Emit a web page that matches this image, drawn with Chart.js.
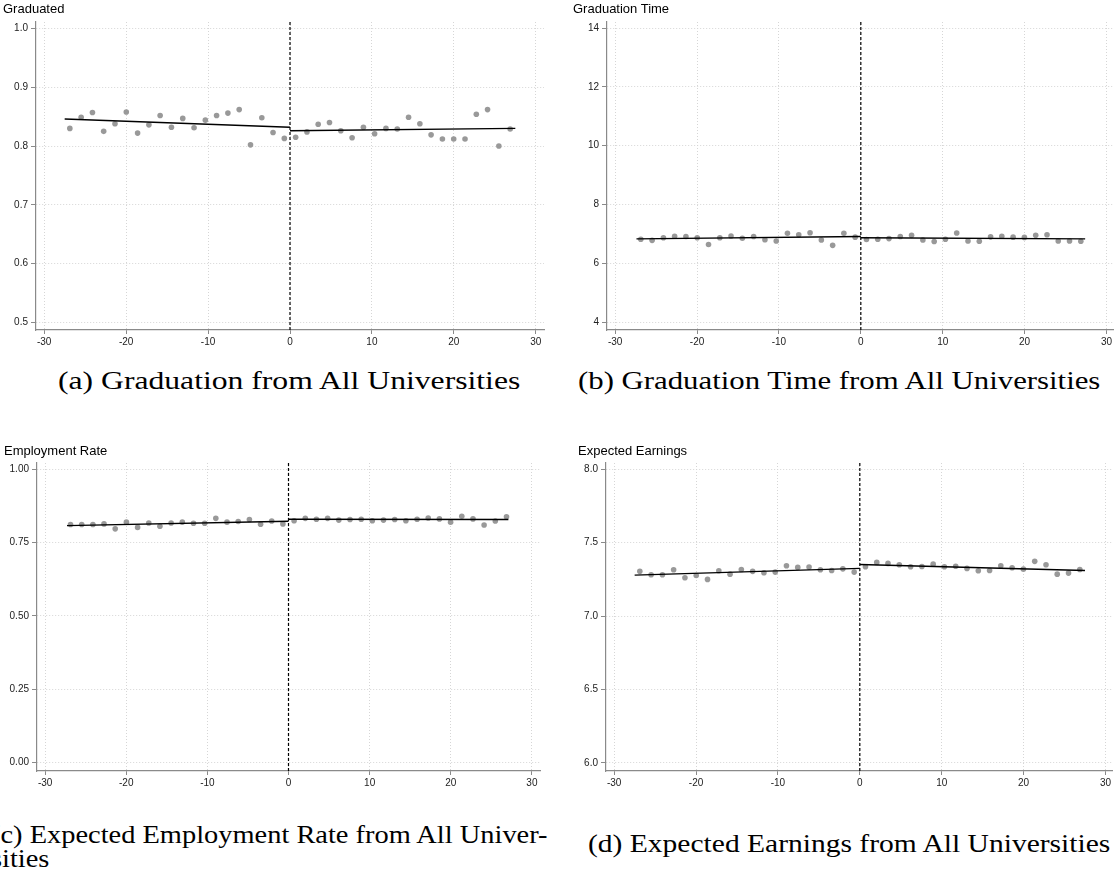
<!DOCTYPE html>
<html><head><meta charset="utf-8">
<script src="https://cdn.jsdelivr.net/npm/chart.js@4.4.1/dist/chart.umd.min.js"></script>
<style>
body{margin:0;width:1117px;height:869px;position:relative;overflow:hidden;background:#fff;}
.box{position:absolute;}
.ttl{position:absolute;font-family:'Liberation Sans',Arial,sans-serif;font-size:13px;line-height:13px;color:#000;white-space:nowrap;z-index:3;}
.cap{position:absolute;font-family:'Liberation Serif','Times New Roman',serif;font-size:25px;line-height:27px;white-space:nowrap;color:#000;transform-origin:0 0;z-index:3;}
</style></head><body>

<div class="box" id="boxA" style="left:0;top:0;width:558px;height:358px;"><canvas id="cA"></canvas></div>
<div class="box" id="boxB" style="left:560px;top:0;width:557px;height:358px;"><canvas id="cB"></canvas></div>
<div class="box" id="boxC" style="left:0;top:440px;width:558px;height:360px;"><canvas id="cC"></canvas></div>
<div class="box" id="boxD" style="left:560px;top:440px;width:557px;height:360px;"><canvas id="cD"></canvas></div>

<div class="ttl" style="left:3px;top:2px;">Graduated</div>
<div class="ttl" style="left:573px;top:2px;">Graduation Time</div>
<div class="ttl" style="left:4px;top:444px;">Employment Rate</div>
<div class="ttl" style="left:578px;top:444px;">Expected Earnings</div>

<div class="cap" id="capA" style="left:58px;top:367px;">(a) Graduation from All Universities</div>
<div class="cap" id="capB" style="left:578px;top:367px;">(b) Graduation Time from All Universities</div>
<div class="cap" id="capC" style="left:-9px;top:823px;line-height:24px;"><span id="capC1">(c) Expected Employment Rate from All Univer-</span><br>sities</div>
<div class="cap" id="capD" style="left:588px;top:830px;">(d) Expected Earnings from All Universities</div>

<script>
// ---- data ----
const xBins = [-26.87,-25.49,-24.11,-22.74,-21.36,-19.98,-18.60,-17.22,-15.85,-14.47,-13.09,-11.71,-10.33,-8.96,-7.58,-6.20,-4.82,-3.44,-2.07,-0.69,
               0.69,2.07,3.44,4.82,6.20,7.58,8.96,10.33,11.71,13.09,14.47,15.85,17.22,18.60,19.98,21.36,22.74,24.11,25.49,26.87];
const xTicks = [-30,-20,-10,0,10,20,30];
const xTickLabels = ['-30','-20','-10','0','10','20','30'];

const graduated = [0.830,0.849,0.857,0.825,0.838,0.858,0.822,0.836,0.852,0.832,0.847,0.831,0.844,0.852,0.856,0.862,0.802,0.848,0.823,0.813,
                   0.815,0.824,0.837,0.840,0.826,0.814,0.832,0.821,0.830,0.829,0.849,0.838,0.819,0.812,0.812,0.812,0.854,0.862,0.800,0.829];
const gradFitLeft  = [[-27.5,0.846],[0,0.832]];
const gradFitRight = [[0,0.826],[27.5,0.830]];
const gradYTicks = [0.5,0.6,0.7,0.8,0.9,1.0];
const gradYLabels = ['0.5','0.6','0.7','0.8','0.9','1.0'];

const gradTime = [6.82,6.78,6.87,6.92,6.91,6.87,6.64,6.87,6.93,6.85,6.91,6.80,6.76,7.02,6.97,7.04,6.79,6.61,7.02,6.89,
                  6.81,6.82,6.84,6.91,6.95,6.79,6.74,6.82,7.03,6.76,6.75,6.90,6.92,6.89,6.88,6.95,6.97,6.76,6.76,6.75];
const timeFitLeft  = [[-27.4,6.83],[0,6.91]];
const timeFitRight = [[0,6.87],[27.4,6.83]];
const timeYTicks = [4,6,8,10,12,14];
const timeYLabels = ['4','6','8','10','12','14'];

const employment = [0.812,0.812,0.812,0.814,0.797,0.820,0.802,0.817,0.806,0.817,0.820,0.816,0.816,0.833,0.820,0.822,0.829,0.813,0.824,0.814,
                    0.825,0.833,0.830,0.833,0.827,0.829,0.830,0.825,0.827,0.829,0.825,0.830,0.834,0.831,0.820,0.840,0.831,0.810,0.824,0.838];
const empFitLeft  = [[-27.3,0.808],[0,0.823]];
const empFitRight = [[0,0.830],[27.1,0.829]];
const empYTicks = [0,0.25,0.5,0.75,1.0];
const empYLabels = ['0.00','0.25','0.50','0.75','1.00'];

const earnings = [7.305,7.282,7.282,7.316,7.261,7.277,7.250,7.309,7.286,7.318,7.305,7.295,7.300,7.343,7.332,7.334,7.316,7.311,7.322,7.300,
                  7.336,7.366,7.359,7.350,7.336,7.338,7.354,7.336,7.340,7.325,7.309,7.311,7.343,7.329,7.320,7.373,7.350,7.286,7.293,7.318];
const earnFitLeft  = [[-27.5,7.279],[0,7.325]];
const earnFitRight = [[0,7.352],[27.5,7.311]];
const earnYTicks = [6.0,6.5,7.0,7.5,8.0];
const earnYLabels = ['6.0','6.5','7.0','7.5','8.0'];

const cutoff = 0;

// ---- drawing ----
const tickFont = {family:"'Liberation Sans', Arial, sans-serif", size:10};
function toPts(arr){ return arr.map(p=>({x:p[0],y:p[1]})); }

function makeChart(id, cfg){
  const pts = xBins.map((x,i)=>({x:x, y:cfg.values[i]}));
  new Chart(document.getElementById(id), {
    type:'scatter',
    data:{datasets:[
      {type:'line', data:[{x:cutoff,y:cfg.yMin},{x:cutoff,y:cfg.yMax}], borderColor:'#000', borderWidth:1.2, borderDash:[3,2], pointRadius:0, fill:false, order:1},
      {type:'line', data:toPts(cfg.fitL), borderColor:'#000', borderWidth:1.4, pointRadius:0, fill:false, order:2},
      {type:'line', data:toPts(cfg.fitR), borderColor:'#000', borderWidth:1.4, pointRadius:0, fill:false, order:2},
      {type:'scatter', data:pts, backgroundColor:'#999999', borderColor:'#999999', borderWidth:0, pointRadius:2.8, order:3}
    ]},
    options:{
      responsive:true, maintainAspectRatio:false, animation:false,
      layout:{padding:{top:cfg.padTop, right:cfg.padRight, left:0, bottom:0}},
      plugins:{legend:{display:false}, tooltip:{enabled:false}, title:{display:false}},
      scales:{
        x:{type:'linear', min:cfg.xMin, max:cfg.xMax,
           afterBuildTicks:(s)=>{ s.ticks = xTicks.map(v=>({value:v})); },
           afterFit:(s)=>{ s.height = cfg.xH; },
           ticks:{font:tickFont, color:'#222', padding:2, maxRotation:0, autoSkip:false,
                  callback:(v)=>{ const i = xTicks.indexOf(v); return i>=0 ? xTickLabels[i] : ''; }},
           grid:{color:'#d6d6d6', lineWidth:1, drawTicks:true, tickLength:4, tickColor:'#8a8a8a', tickBorderDash:[], tickWidth:1},
           border:{display:true, color:'#8a8a8a', width:1.2, dash:[1,2]}
        },
        y:{type:'linear', min:cfg.yMin, max:cfg.yMax,
           afterBuildTicks:(s)=>{ s.ticks = cfg.yTicks.map(v=>({value:v})); },
           afterFit:(s)=>{ s.width = cfg.yW; },
           ticks:{font:tickFont, color:'#222', padding:3, autoSkip:false,
                  callback:(v)=>{ const i = cfg.yTicks.findIndex(t=>Math.abs(t-v)<1e-9); return i>=0 ? cfg.yLabels[i] : ''; }},
           grid:{color:'#d6d6d6', lineWidth:1, drawTicks:true, tickLength:5, tickColor:'#8a8a8a', tickBorderDash:[], tickWidth:1},
           border:{display:true, color:'#8a8a8a', width:1.2, dash:[1,2]}
        }
      }
    }
  });
}

makeChart('cA', {values:graduated, fitL:gradFitLeft, fitR:gradFitRight, yTicks:gradYTicks, yLabels:gradYLabels,
  xMin:-31, xMax:31, yMin:0.487, yMax:1.011, yW:36, xH:28, padTop:22, padRight:14});
makeChart('cB', {values:gradTime, fitL:timeFitLeft, fitR:timeFitRight, yTicks:timeYTicks, yLabels:timeYLabels,
  xMin:-31, xMax:30.8, yMin:3.73, yMax:14.21, yW:47, xH:28, padTop:22, padRight:1});
makeChart('cC', {values:employment, fitL:empFitLeft, fitR:empFitRight, yTicks:empYTicks, yLabels:empYLabels,
  xMin:-31, xMax:31, yMin:-0.03, yMax:1.022, yW:37, xH:29, padTop:23, padRight:18});
makeChart('cD', {values:earnings, fitL:earnFitLeft, fitR:earnFitRight, yTicks:earnYTicks, yLabels:earnYLabels,
  xMin:-31, xMax:30.8, yMin:5.945, yMax:8.043, yW:46, xH:29, padTop:23, padRight:5});

// caption widths to match the reference typesetting
function fit(el, measureEl, target){
  const w = measureEl.offsetWidth;
  if (w > 0) el.style.transform = 'scaleX(' + (target / w) + ')';
}
fit(document.getElementById('capA'), document.getElementById('capA'), 462);
fit(document.getElementById('capB'), document.getElementById('capB'), 522);
fit(document.getElementById('capC'), document.getElementById('capC1'), 557);
fit(document.getElementById('capD'), document.getElementById('capD'), 522);
</script>
</body></html>
